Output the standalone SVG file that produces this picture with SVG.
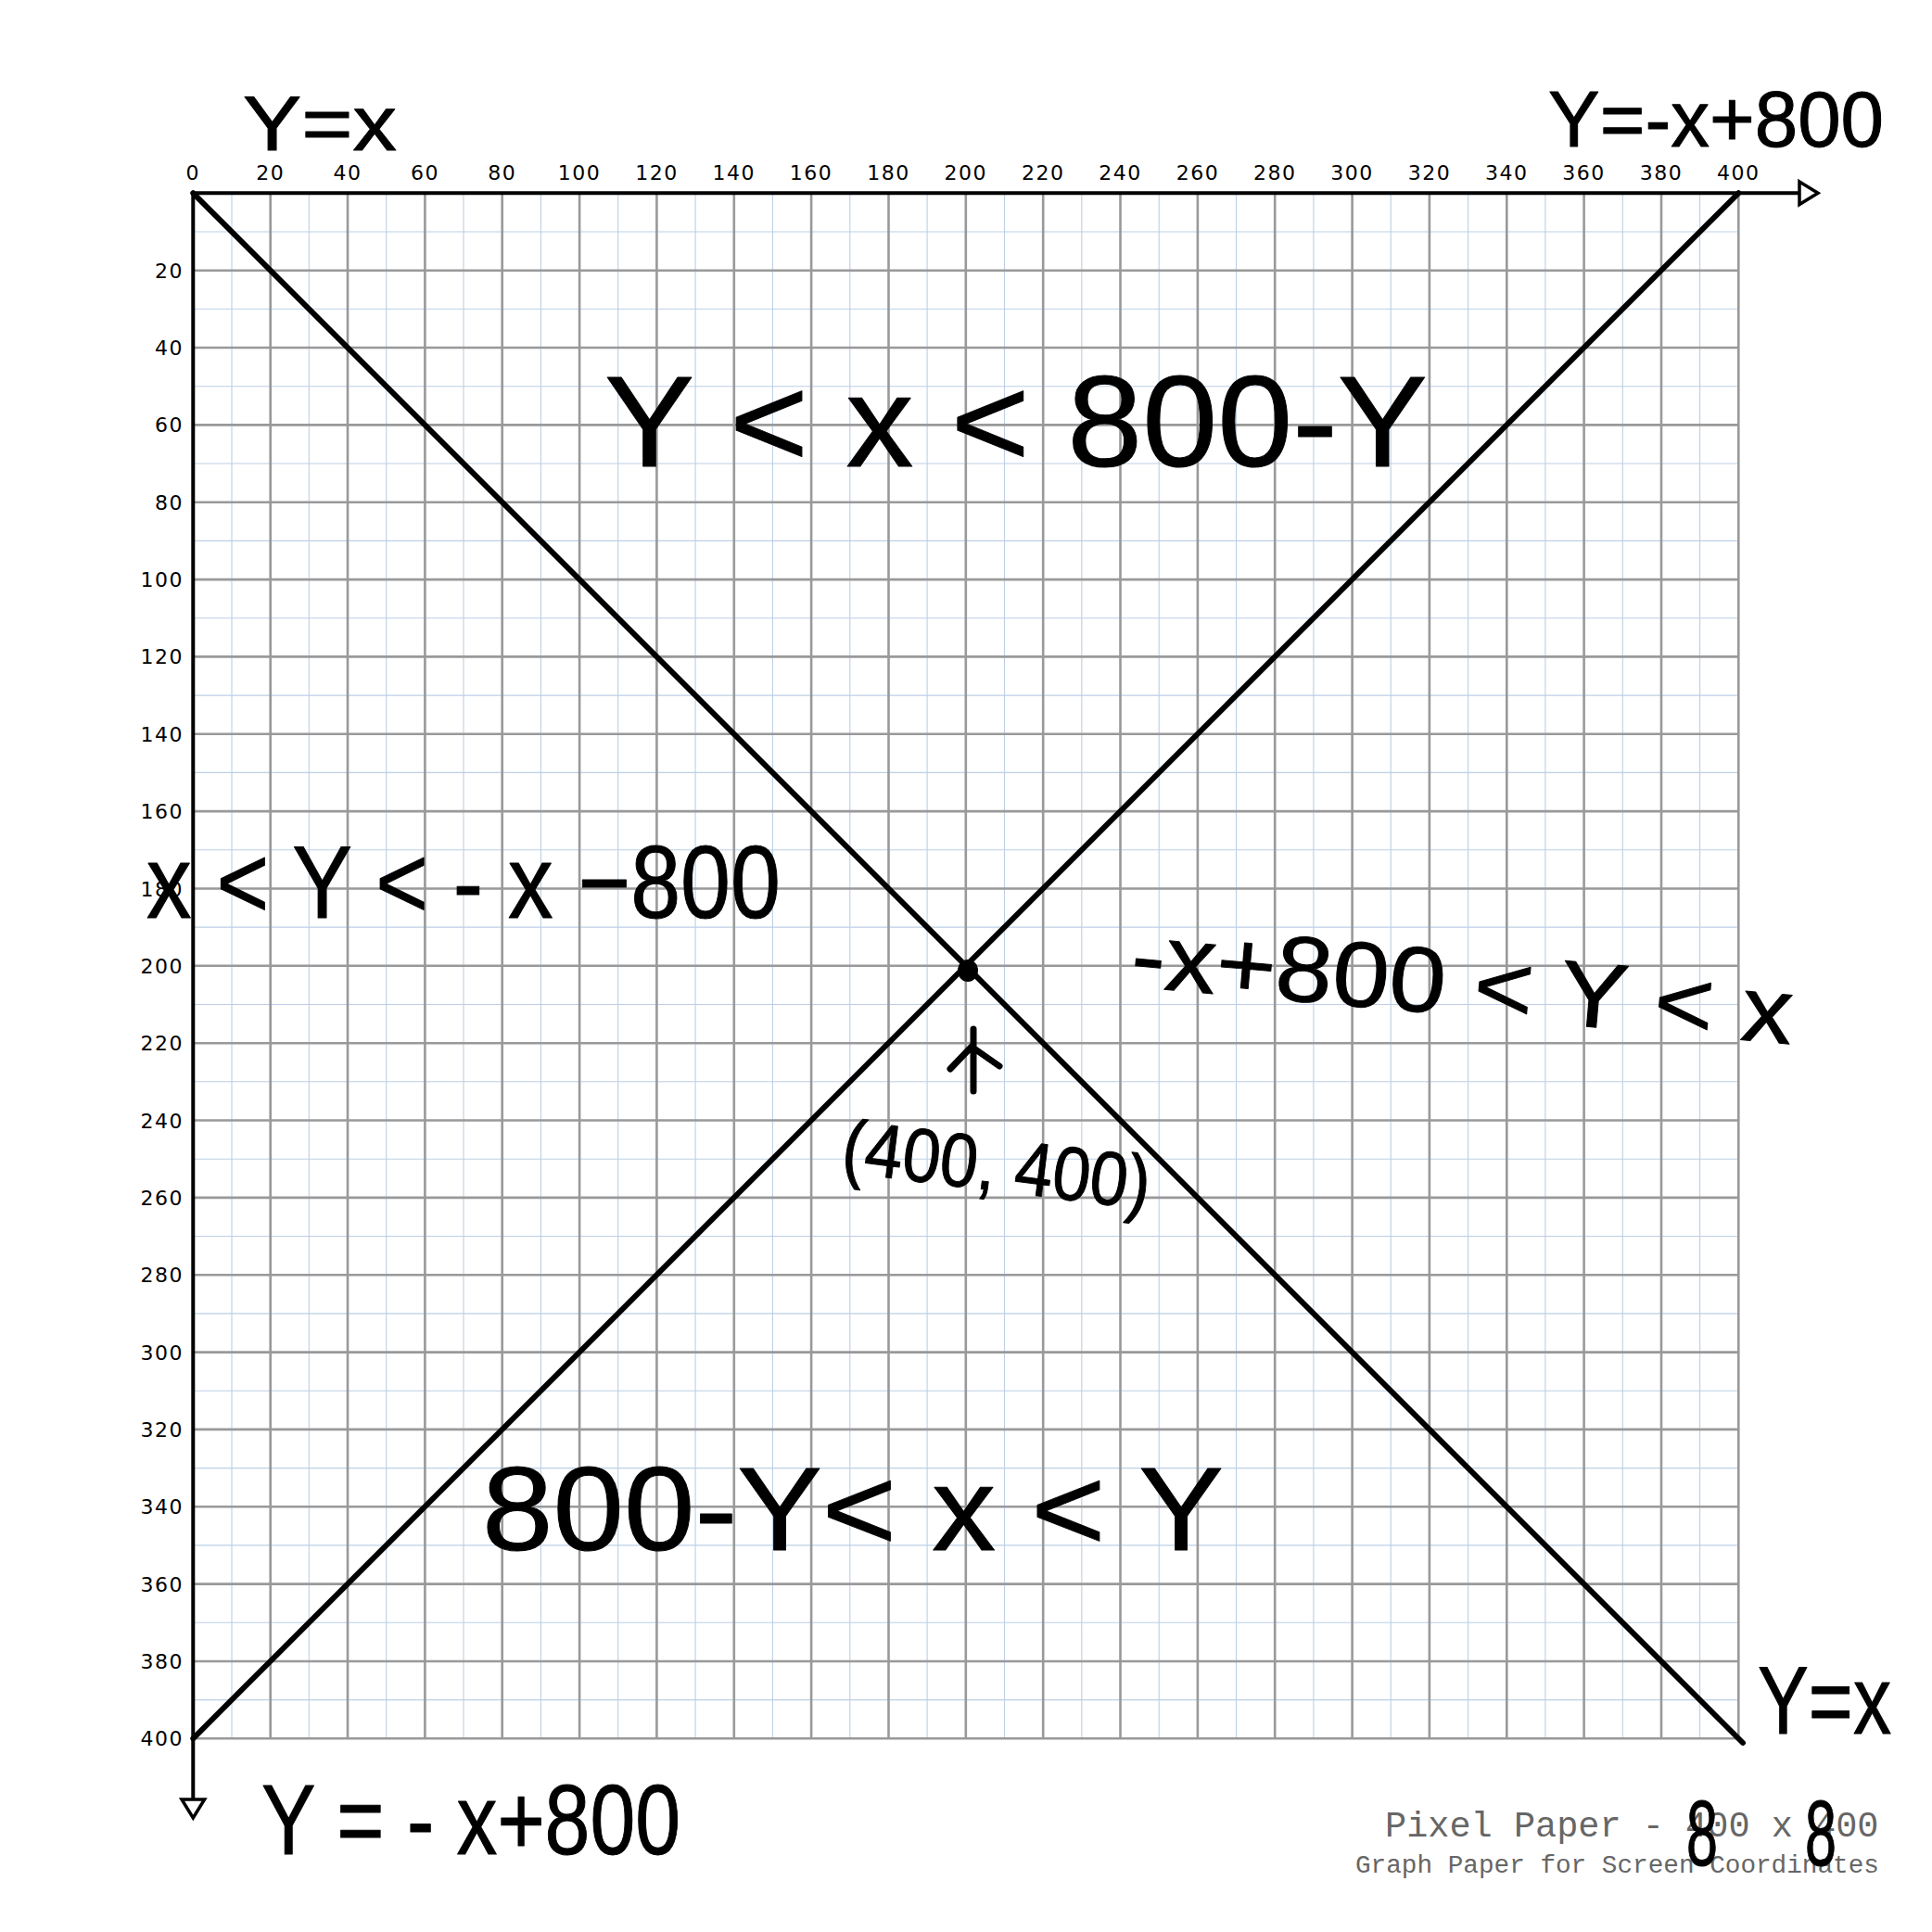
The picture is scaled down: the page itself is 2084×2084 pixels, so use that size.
<svg xmlns="http://www.w3.org/2000/svg" width="2084" height="2084" viewBox="0 0 2084 2084">
<style>
.minor{stroke:#bccfe6;stroke-width:1.1;fill:none}
.major{stroke:#999;stroke-width:2.6;fill:none}
.axis{stroke:#000;stroke-width:4;fill:none}
.diag{stroke:#000;stroke-width:6;fill:none;stroke-linecap:round}
.tick{font-family:"DejaVu Sans",sans-serif;font-size:22px;fill:#000;letter-spacing:1.5px}
.hand{font-family:"Liberation Sans","DejaVu Sans",sans-serif;fill:#000;stroke:#000;stroke-width:1;stroke-linejoin:round}
.cap{font-family:"Liberation Mono",monospace;fill:#666}
</style>
<rect width="2084" height="2084" fill="#fff"/>
<g id="grid">
<path class="minor" d="M250,208.3V1875.3M333.3,208.3V1875.3M416.7,208.3V1875.3M500,208.3V1875.3M583.4,208.3V1875.3M666.7,208.3V1875.3M750.1,208.3V1875.3M833.4,208.3V1875.3M916.8,208.3V1875.3M1000.1,208.3V1875.3M1083.5,208.3V1875.3M1166.8,208.3V1875.3M1250.2,208.3V1875.3M1333.5,208.3V1875.3M1416.9,208.3V1875.3M1500.2,208.3V1875.3M1583.6,208.3V1875.3M1666.9,208.3V1875.3M1750.3,208.3V1875.3M1833.6,208.3V1875.3"/>
<path class="minor" d="M208.3,250H1875.3M208.3,333.3H1875.3M208.3,416.7H1875.3M208.3,500H1875.3M208.3,583.4H1875.3M208.3,666.7H1875.3M208.3,750.1H1875.3M208.3,833.4H1875.3M208.3,916.8H1875.3M208.3,1000.1H1875.3M208.3,1083.5H1875.3M208.3,1166.8H1875.3M208.3,1250.2H1875.3M208.3,1333.5H1875.3M208.3,1416.9H1875.3M208.3,1500.2H1875.3M208.3,1583.6H1875.3M208.3,1666.9H1875.3M208.3,1750.3H1875.3M208.3,1833.6H1875.3"/>
<path class="major" d="M291.7,208.3V1875.3M375,208.3V1875.3M458.4,208.3V1875.3M541.7,208.3V1875.3M625.1,208.3V1875.3M708.4,208.3V1875.3M791.8,208.3V1875.3M875.1,208.3V1875.3M958.5,208.3V1875.3M1041.8,208.3V1875.3M1125.2,208.3V1875.3M1208.5,208.3V1875.3M1291.9,208.3V1875.3M1375.2,208.3V1875.3M1458.6,208.3V1875.3M1541.9,208.3V1875.3M1625.3,208.3V1875.3M1708.6,208.3V1875.3M1792,208.3V1875.3M1875.3,208.3V1875.3"/>
<path class="major" d="M208.3,291.7H1875.3M208.3,375H1875.3M208.3,458.4H1875.3M208.3,541.7H1875.3M208.3,625.1H1875.3M208.3,708.4H1875.3M208.3,791.8H1875.3M208.3,875.1H1875.3M208.3,958.5H1875.3M208.3,1041.8H1875.3M208.3,1125.2H1875.3M208.3,1208.5H1875.3M208.3,1291.9H1875.3M208.3,1375.2H1875.3M208.3,1458.6H1875.3M208.3,1541.9H1875.3M208.3,1625.3H1875.3M208.3,1708.6H1875.3M208.3,1792H1875.3M208.3,1875.3H1875.3"/>
</g>
<g id="axes">
<path class="axis" d="M208.3,208.3H1942M208.3,208.3V1941"/>
<polygon points="1941,196 1961,208.3 1941,220.6" fill="#fff" stroke="#000" stroke-width="3.5"/>
<polygon points="196,1941 220.6,1941 208.3,1961" fill="#fff" stroke="#000" stroke-width="3.5"/>
</g>
<g id="x-labels" class="tick" text-anchor="middle">
<text x="208.3" y="194">0</text><text x="291.7" y="194">20</text><text x="375" y="194">40</text><text x="458.4" y="194">60</text><text x="541.7" y="194">80</text><text x="625.1" y="194">100</text><text x="708.4" y="194">120</text><text x="791.8" y="194">140</text><text x="875.1" y="194">160</text><text x="958.5" y="194">180</text><text x="1041.8" y="194">200</text><text x="1125.2" y="194">220</text><text x="1208.5" y="194">240</text><text x="1291.9" y="194">260</text><text x="1375.2" y="194">280</text><text x="1458.6" y="194">300</text><text x="1541.9" y="194">320</text><text x="1625.3" y="194">340</text><text x="1708.6" y="194">360</text><text x="1792" y="194">380</text><text x="1875.3" y="194">400</text>
</g>
<g id="y-labels" class="tick" text-anchor="end">
<text x="198" y="299.7">20</text><text x="198" y="383">40</text><text x="198" y="466.4">60</text><text x="198" y="549.7">80</text><text x="198" y="633.1">100</text><text x="198" y="716.4">120</text><text x="198" y="799.8">140</text><text x="198" y="883.1">160</text><text x="198" y="966.5">180</text><text x="198" y="1049.8">200</text><text x="198" y="1133.2">220</text><text x="198" y="1216.5">240</text><text x="198" y="1299.9">260</text><text x="198" y="1383.2">280</text><text x="198" y="1466.6">300</text><text x="198" y="1549.9">320</text><text x="198" y="1633.3">340</text><text x="198" y="1716.6">360</text><text x="198" y="1800">380</text><text x="198" y="1883.3">400</text>
</g>
<g id="connectors">
<line class="diag" x1="208.3" y1="208.3" x2="1880" y2="1880"/>
<line class="diag" x1="208.3" y1="1875.3" x2="1875.3" y2="208.3"/>
<ellipse cx="1044" cy="1047" rx="11" ry="12" fill="#000"/>
<path d="M1050,1177V1110M1025,1153L1048,1129L1078,1150" fill="none" stroke="#000" stroke-width="7" stroke-linecap="round" stroke-linejoin="round"/>
</g>
<g id="annotations" class="hand">
<text id="lbl-yx-top" x="262" y="162" font-size="84" textLength="166" lengthAdjust="spacingAndGlyphs">Y=x</text>
<text id="lbl-yx800-top" x="1670" y="158" font-size="86" textLength="362" lengthAdjust="spacingAndGlyphs">Y=-x+800</text>
<text id="lbl-top-region" x="652" y="503" font-size="140" textLength="888" lengthAdjust="spacingAndGlyphs">Y &lt; x &lt; 800-Y</text>
<text id="lbl-left-region" x="158" y="990" font-size="112" textLength="684" lengthAdjust="spacingAndGlyphs">x &lt; Y &lt; - x −800</text>
<text id="lbl-right-region" x="1218" y="1064" font-size="100" textLength="716" lengthAdjust="spacingAndGlyphs" transform="rotate(5 1218 1064)">-x+800 &lt; Y &lt; x</text>
<text id="lbl-center" x="906" y="1264" font-size="82" textLength="334" lengthAdjust="spacingAndGlyphs" transform="rotate(7 906 1264)">(400, 400)</text>
<text id="lbl-bottom-region" x="520" y="1672" font-size="128" textLength="800" lengthAdjust="spacingAndGlyphs">800-Y&lt; x &lt; Y</text>
<text id="lbl-yx800-bottom" x="282" y="2000" font-size="108" textLength="452" lengthAdjust="spacingAndGlyphs">Y = - x+800</text>
<text id="lbl-yx-bottom" x="1896" y="1870" font-size="104" textLength="144" lengthAdjust="spacingAndGlyphs">Y=x</text>
</g>
<g id="caption">
<text class="cap" x="1494" y="1981" font-size="38.6">Pixel Paper - 400 x 400</text>
<text class="cap" x="1462" y="2020" font-size="27.7">Graph Paper for Screen Coordinates</text>
<text class="hand" x="1819" y="2012" font-size="100" textLength="34" lengthAdjust="spacingAndGlyphs">8</text>
<text class="hand" x="1947" y="2012" font-size="100" textLength="34" lengthAdjust="spacingAndGlyphs">8</text>
</g>
</svg>
